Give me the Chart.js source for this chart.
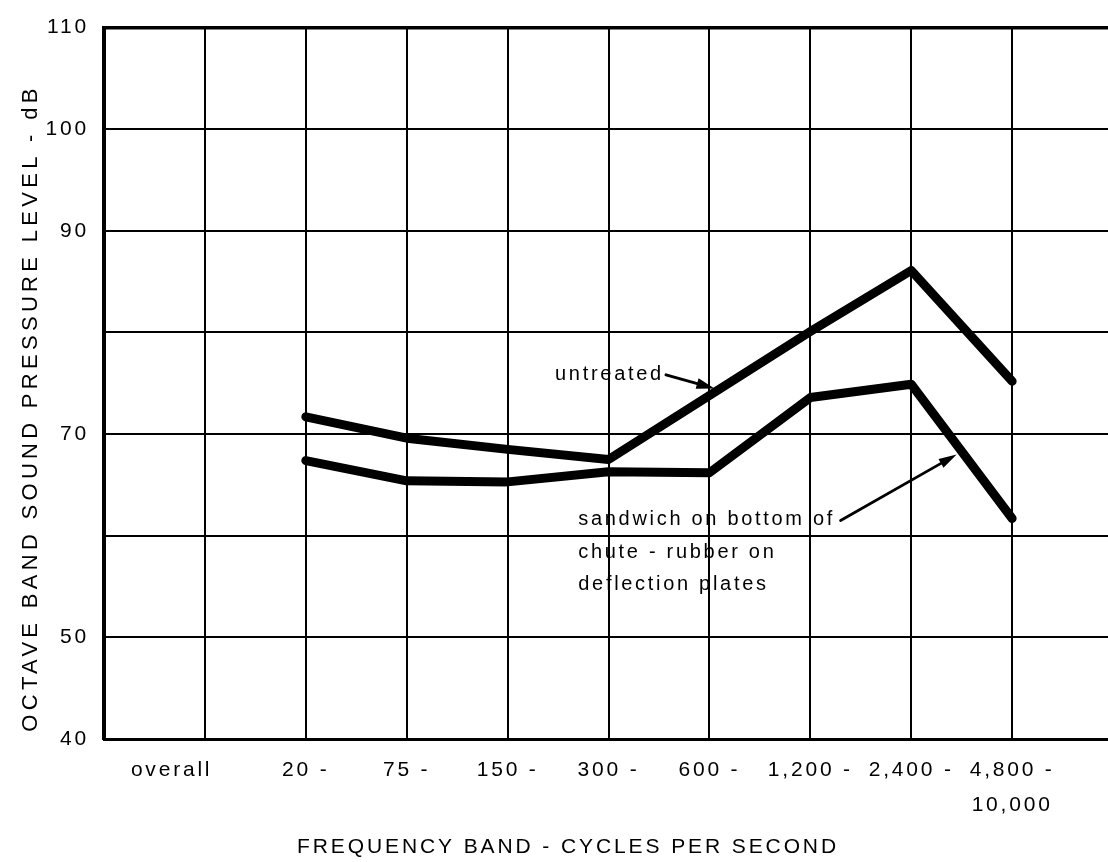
<!DOCTYPE html>
<html>
<head>
<meta charset="utf-8">
<script src="https://cdn.jsdelivr.net/npm/chart.js@4/dist/chart.umd.min.js"></script>
<style>
  html, body { margin: 0; padding: 0; background: #fff; }
  #wrap { width: 1108px; height: 862px; position: relative; }
</style>
</head>
<body>
<div id="wrap"><canvas id="chart"></canvas></div>
<script>
// Octave bands along the horizontal axis (first column is the overall level)
const bandLabels = ['overall', '20 -', '75 -', '150 -', '300 -', '600 -', '1,200 -', '2,400 -', ['4,800 -', '10,000']];
// Measured levels start at the 20 - 75 band
const firstMeasuredBand = 1;
// Octave band sound pressure level, dB
const untreated      = [71.7, 69.6, 68.5, 67.5, 73.8, 80.1, 86.1, 75.2];
const sandwichRubber = [67.4, 65.4, 65.3, 66.3, 66.2, 73.6, 74.9, 61.7];
// Vertical axis
const yMin = 40, yMax = 110, yStep = 10;
const yLabelled = [40, 50, 70, 90, 100, 110];

const FONT = "'Liberation Sans', Arial, Helvetica, sans-serif";
const INK = '#000';

// grid column of a band (column 0 is the left axis)
const bandColumn = i => i + 1;
const OVERALL_LABEL_POS = 0.67;

const toPoints = values => values.map((v, i) => ({ x: bandColumn(firstMeasuredBand + i), y: v }));

// Wide tracking for every piece of text on the canvas
const trackingPlugin = {
  id: 'tracking',
  beforeLayout(chart) { chart.ctx.letterSpacing = '2.8px'; },
  beforeDraw(chart) { chart.ctx.letterSpacing = '2.8px'; }
};

function arrow(ctx, x0, y0, x1, y1, headLen, headHalf, width) {
  const ang = Math.atan2(y1 - y0, x1 - x0);
  const bx = x1 - headLen * Math.cos(ang), by = y1 - headLen * Math.sin(ang);
  ctx.beginPath();
  ctx.lineWidth = width;
  ctx.lineCap = 'round';
  ctx.moveTo(x0, y0);
  ctx.lineTo(bx + Math.cos(ang) * 2, by + Math.sin(ang) * 2);
  ctx.stroke();
  ctx.beginPath();
  ctx.moveTo(x1, y1);
  ctx.lineTo(bx - headHalf * Math.sin(ang), by + headHalf * Math.cos(ang));
  ctx.lineTo(bx + headHalf * Math.sin(ang), by - headHalf * Math.cos(ang));
  ctx.closePath();
  ctx.fill();
}

// Curve call-outs and axis titles
const notesPlugin = {
  id: 'notes',
  afterDraw(chart) {
    const { ctx, scales: { x, y } } = chart;
    const px = v => x.getPixelForValue(v), py = v => y.getPixelForValue(v);
    ctx.save();
    ctx.fillStyle = INK;
    ctx.strokeStyle = INK;
    ctx.letterSpacing = '2.7px';
    ctx.font = `20px ${FONT}`;
    ctx.textAlign = 'left';
    ctx.textBaseline = 'middle';

    // untreated
    ctx.fillText('untreated', px(4.47), py(75.83));
    arrow(ctx, px(5.57), py(75.83), px(6.05), py(74.5), 18, 5.5, 3);

    // sandwich + rubber
    const lines = ['sandwich on bottom of', 'chute - rubber on', 'deflection plates'];
    const rows = [61.58, 58.36, 55.23];
    lines.forEach((t, i) => ctx.fillText(t, px(4.70), py(rows[i])));
    arrow(ctx, px(7.30), py(61.5), px(8.45), py(68.0), 18, 5, 2.8);

    // axis titles
    ctx.textAlign = 'center';
    ctx.font = `21px ${FONT}`;
    ctx.letterSpacing = '2.9px';
    ctx.fillText('FREQUENCY BAND - CYCLES PER SECOND', 568, 847);

    ctx.translate(31, 408);
    ctx.rotate(-Math.PI / 2);
    ctx.font = `22px ${FONT}`;
    ctx.letterSpacing = '4.3px';
    ctx.fillText('OCTAVE BAND SOUND PRESSURE LEVEL - dB', 0, 0);
    ctx.restore();
  }
};

const lineStyle = {
  borderColor: INK,
  borderWidth: 9,
  pointRadius: 0,
  pointHoverRadius: 0,
  tension: 0,
  fill: false,
  borderJoinStyle: 'round',
  borderCapStyle: 'round'
};

new Chart(document.getElementById('chart'), {
  type: 'line',
  data: {
    datasets: [
      Object.assign({ label: 'untreated', data: toPoints(untreated) }, lineStyle),
      Object.assign({ label: 'sandwich on bottom of chute - rubber on deflection plates', data: toPoints(sandwichRubber) }, lineStyle)
    ]
  },
  options: {
    responsive: true,
    maintainAspectRatio: false,
    animation: false,
    events: [],
    layout: { padding: { top: 22, right: 0, bottom: 0, left: 0 } },
    plugins: { legend: { display: false }, tooltip: { enabled: false } },
    scales: {
      x: {
        type: 'linear',
        position: 'bottom',
        min: 0,
        max: 9.95,
        afterBuildTicks(scale) {
          const t = [{ value: 0 }, { value: OVERALL_LABEL_POS }];
          for (let c = 1; c <= bandLabels.length; c++) t.push({ value: c });
          scale.ticks = t;
        },
        afterFit(scale) { scale.height = 123; },
        grid: {
          color: ctx => (ctx.tick && ctx.tick.value === OVERALL_LABEL_POS) ? 'rgba(0,0,0,0)' : INK,
          lineWidth: 2,
          drawTicks: false
        },
        border: { display: true, color: INK, width: 3 },
        ticks: {
          autoSkip: false,
          maxRotation: 0,
          padding: 13,
          color: INK,
          font: { family: FONT, size: 21, lineHeight: 1.7 },
          callback(value) {
            if (value === OVERALL_LABEL_POS) return bandLabels[0];
            if (value >= 2 && Number.isInteger(value)) return bandLabels[value - 1];
            return '';
          }
        }
      },
      y: {
        type: 'linear',
        position: 'left',
        min: yMin,
        max: yMax,
        afterFit(scale) { scale.width = 104; },
        grid: {
          color: INK,
          lineWidth: ctx => (ctx.tick && ctx.tick.value === yMax) ? 3.5 : 2,
          drawTicks: false
        },
        border: { display: true, color: INK, width: 4 },
        ticks: {
          stepSize: yStep,
          padding: 15,
          color: INK,
          font: { family: FONT, size: 21 },
          callback: v => yLabelled.includes(v) ? String(v) : ''
        }
      }
    }
  },
  plugins: [trackingPlugin, notesPlugin]
});
</script>
</body>
</html>
